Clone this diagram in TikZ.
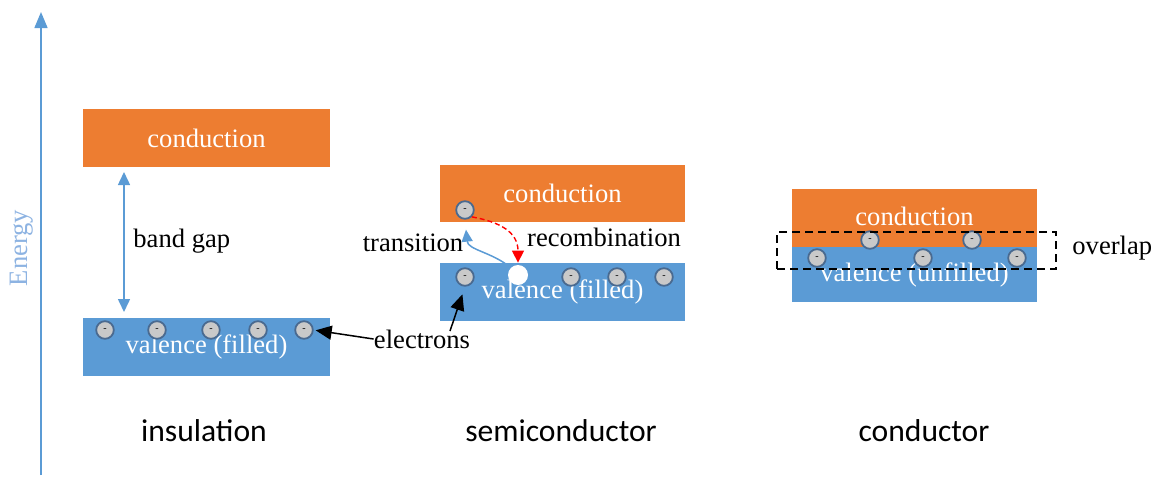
\documentclass[tikz,border=0pt]{standalone}
\usepackage{fontspec}
\setmainfont{Liberation Serif}
\newfontfamily\tnr{Liberation Serif}
\newfontfamily\calib{Carlito}
\usetikzlibrary{arrows.meta}
\definecolor{borange}{HTML}{ED7D31}
\definecolor{bblue}{HTML}{5B9BD5}
\definecolor{egray}{HTML}{C9C9C9}
\definecolor{eedge}{HTML}{4A6A90}
\definecolor{elabel}{HTML}{8DB3E2}
\definecolor{rred}{HTML}{FF0000}
\begin{document}
\begin{tikzpicture}[x=0.5pt,y=-0.5pt,
  band/.style={draw=none, inner sep=0, minimum width=122.5pt, text=white, font=\tnr\fontsize{13.3}{15}\selectfont},
  cband/.style={band, fill=borange},
  vband/.style={band, fill=bblue},
  electron/.style={circle, fill=egray, draw=eedge, line width=0.9pt, minimum size=8.8pt, inner sep=0, font=\tnr\fontsize{5}{5}\selectfont, text=black},
  lbl/.style={font=\tnr\fontsize{13.3}{15}\selectfont, inner sep=0},
  cat/.style={font=\calib\fontsize{15.8}{18}\selectfont, inner sep=0}
]
\useasboundingbox (0,0) rectangle (1152,479);

% energy axis
\coordinate (ax0) at (41,475);
\coordinate (ax1) at (41,12);
\draw[bblue, line width=0.75pt, -{Triangle[width=6.5pt,length=8pt]}] (ax0) -- (ax1);
\node[lbl, text=elabel, rotate=90] (energy) at (22,248) {Energy};

% insulation
\node[cband, minimum width=123.5pt, minimum height=29pt] (ic) at (206.5,138) {conduction};
\node[vband, minimum width=123.5pt, minimum height=29pt] (iv) at (206.5,347) {\raisebox{-5pt}{valence (filled)}};
\draw[bblue, line width=0.75pt, {Triangle[width=6pt,length=6.5pt]}-{Triangle[width=6pt,length=6.5pt]}]
  (124,172) coordinate (bg0) -- (124,312) coordinate (bg1);
\node[lbl, anchor=west] (bandgap) at (133,241) {band gap};
\foreach \n/\x in {1/105,2/157,3/211,4/258,5/304}
  \node[electron] (i\n) at (\x,330) {-};
\node[cat] (insul) at (204,431) {insulation};

% semiconductor
\node[cband, minimum height=28.5pt] (sc) at (562.5,193.5) {conduction};
\node[vband, minimum height=29pt] (sv) at (562.5,292) {\raisebox{-4pt}{valence (filled)}};
\node[electron] (se0) at (465,210) {-};
\foreach \n/\x in {1/465,2/571,3/617,4/664}
  \node[electron] (se\n) at (\x,277) {-};
\node[circle, fill=white, inner sep=0, minimum size=10pt] (hole) at (518,275) {};
\draw[bblue, line width=0.75pt, shorten >=5pt, -{Triangle[width=5.5pt,length=6pt]}]
  (hole.north west) .. controls (492,252) and (468,250) .. (se0.south);
\draw[rred, line width=0.7pt, dash pattern=on 2.5pt off 1.5pt, shorten >=1pt, -{Triangle[width=6pt,length=6pt]}]
  (se0.south east) .. controls (500,222) and (518,232) .. (hole.north);
\node[lbl] (trans) at (413,243) {transition};
\node[lbl] (recomb) at (604,237) {recombination};
\node[cat] (semi) at (561,431) {semiconductor};

% electrons label
\node[lbl] (elab) at (422,339) {electrons};
\coordinate (ea) at (450,331);
\draw[black, line width=0.75pt, shorten >=1pt, -{Triangle[width=7pt,length=8pt]}] (elab.west) -- (i5.east);
\draw[black, line width=0.75pt, shorten >=4pt, -{Triangle[width=7pt,length=8pt]}] (ea) -- (se1.south);

% conductor
\node[cband, minimum height=29pt, anchor=north] (cc) at (914.5,189) {\raisebox{2pt}{conduction}};
\node[vband, minimum height=27.5pt, anchor=north] (cv) at (914.5,247) {\raisebox{-2pt}{valence (unfilled)}};
\foreach \n/\x in {1/870,2/972}
  \node[electron] (cu\n) at (\x,240) {-};
\foreach \n/\x in {1/817,2/923,3/1017}
  \node[electron] (cl\n) at (\x,258) {-};
\node[draw=black, line width=1pt, dash pattern=on 4pt off 2.5pt, inner sep=0, minimum width=139.5pt, minimum height=18.5pt] (ovbox) at (916.5,250.5) {};
\node[lbl, anchor=west] (overlap) at (1072,248) {overlap};
\node[cat] (cond) at (924,431) {conductor};
\end{tikzpicture}
\end{document}
